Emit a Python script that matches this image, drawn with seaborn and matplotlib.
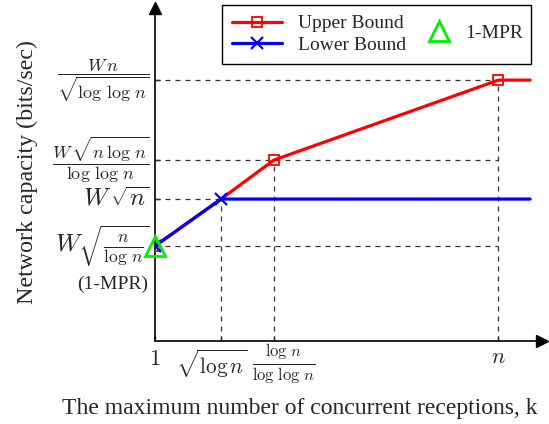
"""
Network capacity vs. number of concurrent receptions (MPR bounds sketch)
"""

import matplotlib
matplotlib.use('Agg')
import matplotlib.pyplot as plt
from matplotlib.lines import Line2D
import seaborn as sns
import pandas as pd

# data (abstract axis units)
upper_k = [1, 2, 2.8, 6.2, 6.68]
upper_cap = [0.95, 1.42, 1.81, 2.61, 2.61]
lower_k = [1, 2, 6.68]
lower_cap = [0.95, 1.42, 1.42]
mpr_k = [1]
mpr_cap = [0.95]

x_ticks = [1, 2, 2.8, 6.2]
x_labels = [r'$1$', r'$\sqrt{\log n}$', r'$\frac{\log\,n}{\log\,\log\,n}$', r'$n$']
x_label_sizes = [16, 15.3, 17, 16]
x_label_offset = [(0, -10), (-9, -7), (10, -1), (0, -8)]  # px
y_ticks = [0.95, 1.42, 1.81, 2.61]
y_labels = [r'$W\sqrt{\frac{n}{\log\,n}}$', r'$W\,\sqrt{n}$',
            r'$\dfrac{W\,\sqrt{n\,\log\,n}}{\log\,\log\,n}$',
            r'$\dfrac{W\,n}{\sqrt{\log\,\log\,n}}$']
y_label_sizes = [18, 18, 13, 13]

sns.set_style('white')
plt.rcParams['font.family'] = ['Liberation Serif', 'DejaVu Serif']
plt.rcParams['mathtext.fontset'] = 'cm'
plt.rcParams['xtick.bottom'] = True
plt.rcParams['ytick.left'] = True

fig = plt.figure(figsize=(5.49, 4.24), dpi=100)
ax = fig.add_axes([0.2823, 0.1958, 0.705, 0.785])

df_up = pd.DataFrame({'k': upper_k, 'cap': upper_cap})
df_low = pd.DataFrame({'k': lower_k, 'cap': lower_cap})

# guide lines
gray = '#333333'
ax.hlines(y_ticks, x_ticks[0], x_ticks[-1], colors=gray, linestyles=(0, (4, 4)),
          linewidth=0.9, zorder=1)
ax.vlines(x_ticks[1:], 0, [lower_cap[1], upper_cap[2], upper_cap[3]], colors=gray,
          linestyles=(0, (4, 4)), linewidth=0.9, zorder=1)

sns.lineplot(data=df_up, x='k', y='cap', ax=ax, color='red', linewidth=2.3,
             marker='s', markersize=6.5, markerfacecolor='none',
             markeredgecolor='red', markeredgewidth=1.3,
             markevery=[0, 2, 3], zorder=3)
sns.lineplot(data=df_low, x='k', y='cap', ax=ax, color='blue', linewidth=2.3,
             marker='x', markersize=8, markeredgecolor='blue',
             markeredgewidth=1.6, markevery=[0, 1], zorder=4)
ax.plot(mpr_k, mpr_cap, linestyle='none', marker='^', markersize=14,
        markerfacecolor='none', markeredgecolor='#00ee00', markeredgewidth=2,
        zorder=5, clip_on=False)

ax.set_xlim(1, 6.86)
ax.set_ylim(0, 3.33)

# axes with arrows
for s in ['top', 'right']:
    ax.spines[s].set_visible(False)
for s in ['left', 'bottom']:
    ax.spines[s].set_linewidth(1.2)
    ax.spines[s].set_color('black')
ax.plot(1, 0, '>k', markersize=8, transform=ax.transAxes, clip_on=False)
ax.plot(0, 1, '^k', markersize=8, transform=ax.transAxes, clip_on=False)

# x tick labels placed by hand (individual nudges like in the original)
ax.set_xticks(x_ticks)
ax.set_xticklabels([''] * len(x_ticks))
for xv, lab, fs, (dx, dy) in zip(x_ticks, x_labels, x_label_sizes, x_label_offset):
    ax.annotate(lab, xy=(xv, 0), xycoords=ax.get_xaxis_transform(),
                xytext=(dx, dy), textcoords='offset pixels',
                ha='center', va='top', fontsize=fs)

ax.set_yticks(y_ticks)
ax.set_yticklabels(y_labels)
for lab, fs in zip(ax.get_yticklabels(), y_label_sizes):
    lab.set_fontsize(fs)
    lab.set_verticalalignment('center')
ax.tick_params(direction='in', length=3.5, width=1, color='black', pad=4,
               bottom=True, left=True)
ax.annotate('(1-MPR)', xy=(0, mpr_cap[0]), xycoords=ax.get_yaxis_transform(),
            xytext=(-5, -27.5), textcoords='offset points', ha='right', va='center',
            fontsize=14)

ax.set_xlabel('The maximum number of concurrent receptions, k', fontsize=17)
ax.xaxis.set_label_coords(0.375, -0.17)
ax.set_ylabel('Network capacity (bits/sec)', fontsize=17.3)
ax.yaxis.set_label_coords(-0.302, 0.507)

# legend
h_up = Line2D([], [], color='red', linewidth=2.3, marker='s', markersize=6.5,
              markerfacecolor='none', markeredgewidth=1.3)
h_low = Line2D([], [], color='blue', linewidth=2.3, marker='x', markersize=8,
               markeredgewidth=1.6)
h_mpr = Line2D([], [], linestyle='none', marker='^', markersize=14,
               markerfacecolor='none', markeredgecolor='#00ee00', markeredgewidth=2)
leg1 = ax.legend([h_up, h_low], ['Upper Bound', 'Lower Bound'], loc='upper left',
                 bbox_to_anchor=(0.173, 0.84, 0.798, 0.169), mode='expand',
                 fancybox=False, edgecolor='black', framealpha=1, fontsize=14,
                 numpoints=1, handlelength=2.6, labelspacing=0.2,
                 handletextpad=0.8, borderpad=0.5, borderaxespad=0)
leg1.get_frame().set_linewidth(1.0)
ax.add_artist(leg1)
ax.legend([h_mpr], ['1-MPR'], loc='center right', bbox_to_anchor=(0.985, 0.925),
          frameon=False, fontsize=14, numpoints=1, handletextpad=0.3,
          borderaxespad=0.3)

plt.savefig('out.png', dpi=100)
